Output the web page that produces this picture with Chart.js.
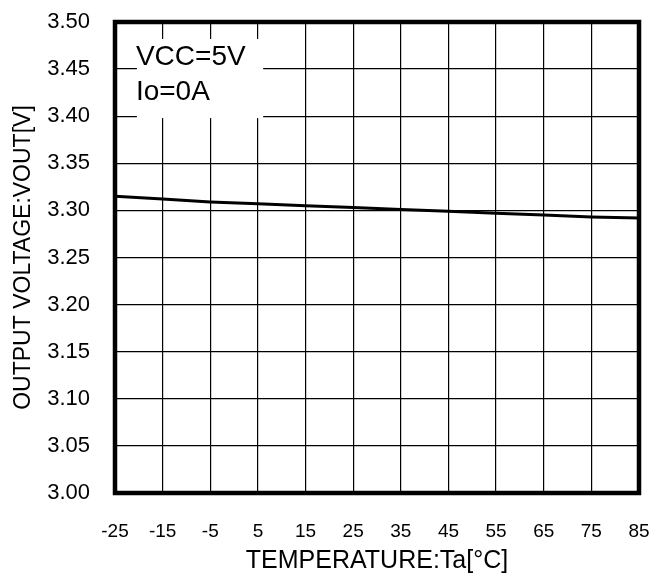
<!DOCTYPE html>
<html>
<head>
<meta charset="utf-8">
<script src="https://cdn.jsdelivr.net/npm/chart.js@4"></script>
<style>
html,body{margin:0;padding:0;background:#fff;}
#wrap{width:661px;height:582px;position:relative;}
</style>
</head>
<body>
<div id="wrap"><canvas id="c" width="661" height="582"></canvas></div>
<script>
const temperatures = [-25, -15, -5, 5, 15, 25, 35, 45, 55, 65, 75, 85];
const voutValues = [3.315, 3.312, 3.309, 3.307, 3.305, 3.303, 3.301, 3.299, 3.297, 3.295, 3.293, 3.292];
const xTickValues = [-25, -15, -5, 5, 15, 25, 35, 45, 55, 65, 75, 85];
const yTickValues = [3.00, 3.05, 3.10, 3.15, 3.20, 3.25, 3.30, 3.35, 3.40, 3.45, 3.50];
const noteLines = ["VCC=5V", "Io=0A"];
const xTitle = "TEMPERATURE:Ta[°C]";
const yTitle = "OUTPUT VOLTAGE:VOUT[V]";

const FONT = "'Liberation Sans', Arial, sans-serif";

const framePlugin = {
  id: 'frame',
  afterDatasetsDraw(chart) {
    const {ctx, chartArea, scales} = chart;
    const xs = scales.x, ys = scales.y;
    const bx1 = xs.getPixelForValue(-20.4), bx2 = xs.getPixelForValue(6.1);
    const by1 = ys.getPixelForValue(3.482), by2 = ys.getPixelForValue(3.398);
    ctx.save();
    ctx.fillStyle = '#fff';
    ctx.fillRect(bx1, by1, bx2 - bx1, by2 - by1);
    ctx.fillStyle = '#000';
    ctx.font = "28px " + FONT;
    ctx.textBaseline = 'alphabetic';
    ctx.textAlign = 'left';
    ctx.fillText(noteLines[0], bx1 - 1, ys.getPixelForValue(3.4545));
    ctx.fillText(noteLines[1], bx1 - 1, ys.getPixelForValue(3.4174));
    ctx.strokeStyle = '#000';
    ctx.lineWidth = 4.5;
    ctx.lineJoin = 'miter';
    ctx.strokeRect(chartArea.left, chartArea.top, chartArea.right - chartArea.left, chartArea.bottom - chartArea.top);
    ctx.restore();
  }
};

new Chart(document.getElementById('c'), {
  type: 'line',
  data: {
    datasets: [{
      data: temperatures.map((t, i) => ({x: t, y: voutValues[i]})),
      borderColor: '#000',
      borderWidth: 3,
      pointRadius: 0,
      tension: 0,
      fill: false
    }]
  },
  options: {
    responsive: false,
    animation: false,
    devicePixelRatio: 1,
    layout: {padding: {left: 0, right: 22, top: 22, bottom: 0}},
    plugins: {legend: {display: false}, tooltip: {enabled: false}},
    scales: {
      x: {
        type: 'linear',
        min: -25, max: 85,
        afterBuildTicks: s => { s.ticks = xTickValues.map(v => ({value: v})); },
        afterFit: s => { s.height = 89; s.paddingLeft = 0; s.paddingRight = 0; },
        grid: {color: '#000', lineWidth: 1.2, drawTicks: false},
        border: {display: false},
        ticks: {
          color: '#000', padding: 27, maxRotation: 0, autoSkip: false,
          font: {family: FONT, size: 19},
          callback: v => String(v)
        },
        title: {
          display: true, text: xTitle, color: '#000',
          font: {family: FONT, size: 25}, padding: {top: 0, bottom: 6}
        }
      },
      y: {
        type: 'linear',
        min: 3.0, max: 3.5,
        afterBuildTicks: s => { s.ticks = yTickValues.map(v => ({value: v})); },
        afterFit: s => { s.width = 115; s.paddingTop = 0; s.paddingBottom = 0; },
        grid: {color: '#000', lineWidth: 1.2, drawTicks: false},
        border: {display: false},
        ticks: {
          color: '#000', padding: 25, autoSkip: false,
          font: {family: FONT, size: 22},
          callback: v => Number(v).toFixed(2)
        },
        title: {
          display: true, text: yTitle, color: '#000',
          font: {family: FONT, size: 23}, padding: {top: 10, bottom: 0}
        }
      }
    }
  },
  plugins: [framePlugin]
});
</script>
</body>
</html>
